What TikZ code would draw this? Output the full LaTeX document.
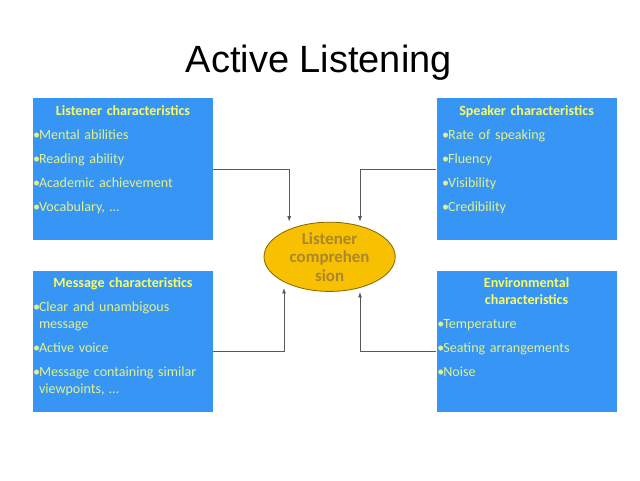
\documentclass[tikz,border=0pt]{standalone}
\usepackage{fontspec}
\usepackage{tikz}
\usetikzlibrary{arrows.meta,positioning,shapes.geometric}
\newfontfamily\carlito{Carlito}
\newfontfamily\arialf{Liberation Sans}
\definecolor{boxblue}{RGB}{55,150,245}
\definecolor{headyellow}{RGB}{250,250,100}
\definecolor{itemyellow}{RGB}{225,240,140}
\definecolor{gold}{RGB}{247,192,0}
\definecolor{golddark}{RGB}{135,105,0}
\definecolor{goldtext}{RGB}{170,135,45}
\newcommand{\hd}[1]{{\centering\bfseries\color{headyellow}#1\par}}
\newcommand{\itm}[2][0cm]{\par\hangindent=\dimexpr#1+0.15cm\relax\hangafter=1\hspace*{#1}\makebox[0.15cm][l]{\textbullet}#2\par}

\begin{document}
\begin{tikzpicture}[node distance=0.75cm,
box/.style={fill=boxblue, draw=none, minimum width=4.5cm, minimum height=3.55cm, inner sep=0pt},
boxtext/.style={anchor=base, text width=4.5cm, inner sep=0pt, align=left, text=itemyellow,
  font=\carlito\fontsize{10pt}{0.425cm}\selectfont\setlength{\parskip}{0.175cm}},
arrow/.style={-{Latex[length=1.4mm,width=1mm]}, line width=0.6pt, black!65}]
\useasboundingbox (0,0) rectangle (16,12);
\node[font=\arialf\fontsize{27pt}{32pt}\selectfont, anchor=base] (title) at (7.97,10.19) {Active Listening};
\node[box] (lst) at (3.075,7.775) {};
\node[box, right=5.575cm of lst] (spk) {};
\node[box, below=0.75cm of lst, minimum height=3.525cm] (msg) {};
\node[box, right=5.575cm of msg, minimum height=3.525cm] (env) {};
\node[ellipse, fill=gold, draw=golddark, line width=0.6pt, minimum width=3.28cm, minimum height=1.67cm,
  inner sep=0pt, align=center, text=goldtext, font=\carlito\bfseries\fontsize{12pt}{0.4625cm}\selectfont] (lc) at (8.24,5.58) {Listener\\comprehen\\sion};
% texts in the boxes
\node[boxtext] (lsttxt) at ([yshift=-0.45cm]lst.north) {\hd{Listener characteristics}
  \itm{Mental abilities}\itm{Reading ability}\itm{Academic achievement}\itm{Vocabulary, \dots}};
\node[boxtext] (spktxt) at ([yshift=-0.45cm]spk.north) {\hd{Speaker characteristics}
  \itm[0.14cm]{Rate of speaking}\itm[0.14cm]{Fluency}\itm[0.14cm]{Visibility}\itm[0.14cm]{Credibility}};
\node[boxtext] (msgtxt) at ([yshift=-0.43cm]msg.north) {\hd{Message characteristics}
  \itm{Clear and unambigous\newline message}\itm{Active voice}\itm{Message containing similar\newline viewpoints, \dots}};
\node[boxtext] (envtxt) at ([yshift=-0.43cm]env.north) {\hd{Environmental\\characteristics}
  \itm[0.02cm]{Temperature}\itm[0.02cm]{Seating arrangements}\itm[0.02cm]{Noise}};
% connectors
\draw[arrow] (lst.east) -| ([xshift=-1.01cm]lc.north);
\draw[arrow] (spk.west) -| ([xshift=0.76cm]lc.north);
\draw[arrow] ([yshift=-0.26cm]msg.east) -| ([xshift=-1.14cm,yshift=0.1cm]lc.south);
\draw[arrow] ([yshift=-0.26cm]env.west) -| ([xshift=0.76cm]lc.south);
\end{tikzpicture}
\end{document}
